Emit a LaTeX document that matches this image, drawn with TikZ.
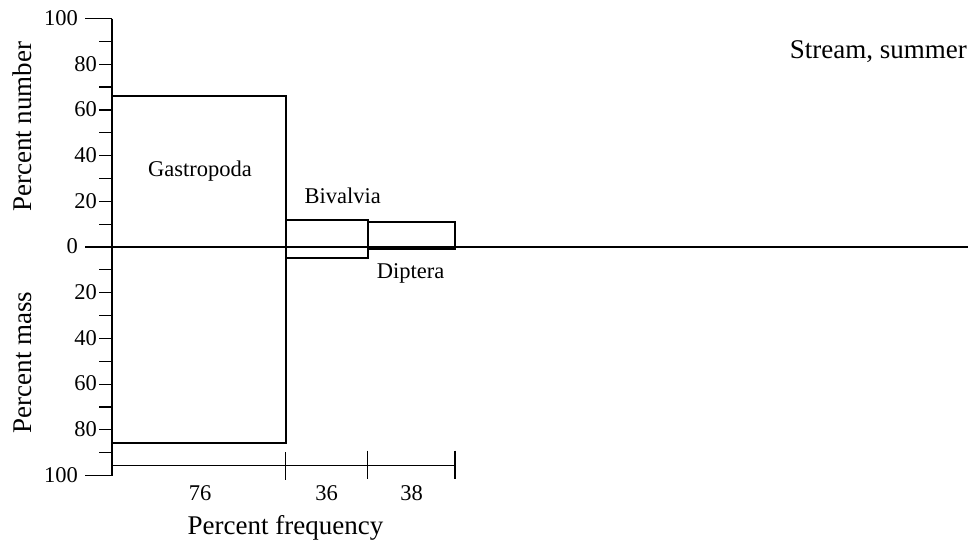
\documentclass[tikz,border=0pt]{standalone}
\usepackage{fontspec}
\setmainfont{Liberation Serif}
\begin{document}
\begin{tikzpicture}[x=1pt,y=-1pt,
  lab/.style={font=\fontsize{22.5}{26}\selectfont, inner sep=0pt},
  ttl/.style={font=\fontsize{27}{32}\selectfont, inner sep=0pt},
  axisline/.style={line width=2.1pt},
  boxline/.style={line width=1.8pt},
  tickline/.style={line width=1.2pt},
  thinline/.style={line width=1.1pt}]
\useasboundingbox (0,0) rectangle (976,544);
% minor/medium ticks on y axis
\foreach \k in {1,...,9} {
  \draw[tickline] (99,{247-22.85*\k}) -- (112,{247-22.85*\k});
  \draw[tickline] (99,{247+22.85*\k}) -- (112,{247+22.85*\k});
}
% long ticks at 100
\draw[tickline] (85,18.5) -- (112,18.5);
\draw[tickline] (85,475.5) -- (112,475.5);
% tick labels
\node[lab,anchor=east] (t100) at (78,18) {100};
\node[lab,anchor=east] (t80) at (97,{247-22.85*8-0.5}) {80};
\node[lab,anchor=east] (t60) at (97,{247-22.85*6-0.5}) {60};
\node[lab,anchor=east] (t40) at (97,{247-22.85*4-0.5}) {40};
\node[lab,anchor=east] (t20) at (97,{247-22.85*2-0.5}) {20};
\node[lab,anchor=east] (t0) at (78,246.5) {0};
\node[lab,anchor=east] (b20) at (97,{247+22.85*2-0.5}) {20};
\node[lab,anchor=east] (b40) at (97,{247+22.85*4-0.5}) {40};
\node[lab,anchor=east] (b60) at (97,{247+22.85*6-0.5}) {60};
\node[lab,anchor=east] (b80) at (97,{247+22.85*8-0.5}) {80};
\node[lab,anchor=east] (b100) at (78,475) {100};
% bars
\draw[boxline] (112,96.3) rectangle (285.7,443.3);
\draw[boxline] (285.7,220.3) rectangle (367.7,258.3);
\draw[boxline] (367.7,222.3) rectangle (455,249);
% axes
\draw[axisline] (112,18.5) -- (112,475.5);
\draw[axisline] (85,247) -- (968,247);
% frequency axis
\draw[thinline] (112,465.3) -- (455,465.3);
\draw[tickline] (285.7,452) -- (285.7,480);
\draw[tickline] (367.7,450.5) -- (367.7,478.5);
\draw[tickline] (455,450.5) -- (455,478.5);
\node[lab,anchor=base] (f76) at (200,500.7) {76};
\node[lab,anchor=base] (f36) at (326.7,500) {36};
\node[lab,anchor=base] (f38) at (411.7,500) {38};
% taxa labels
\node[lab,anchor=base] (gas) at (200,176.7) {Gastropoda};
\node[lab,anchor=base] (biv) at (342.7,203.3) {Bivalvia};
\node[lab,anchor=base] (dip) at (410.7,278.3) {Diptera};
% titles
\node[ttl,anchor=base] (freq) at (285.5,534) {Percent frequency};
\node[ttl,rotate=90] (num) at (22.7,126.7) {Percent number};
\node[ttl,rotate=90] (mass) at (22.5,362.5) {Percent mass};
\node[ttl,anchor=base] (title) at (878.3,58.3) {Stream, summer};
\end{tikzpicture}
\end{document}
